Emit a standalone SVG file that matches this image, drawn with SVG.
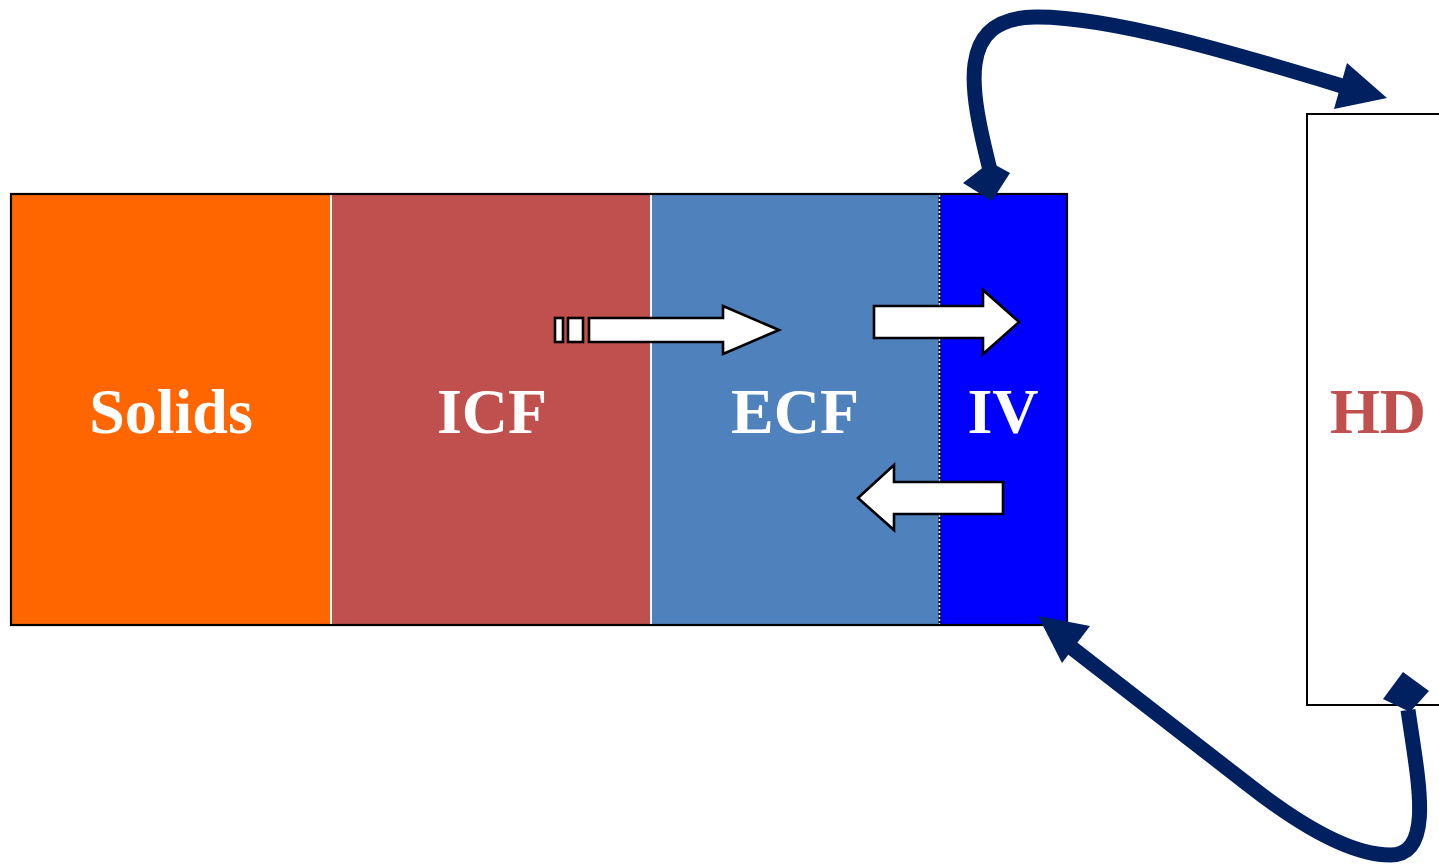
<svg xmlns="http://www.w3.org/2000/svg" width="1439" height="864" viewBox="0 0 1439 864">
  <style>
    .lbl { font-family: "Liberation Serif", "Times New Roman", serif; font-weight: bold; font-size: 64px; text-anchor: middle; }
    .wht { fill: #FFFFFF; }
    .blk { fill: #FFFFFF; stroke: #000000; stroke-width: 2.6; stroke-linejoin: miter; }
    .conn { fill: none; stroke: #002060; stroke-width: 15; }
    .head { fill: #002060; }
  </style>
  <rect x="0" y="0" width="1439" height="864" fill="#FFFFFF"/>

  <g id="solids">
    <rect x="11" y="194" width="320" height="431" fill="#FF6600"/>
    <text class="lbl wht" x="171" y="433">Solids</text>
  </g>
  <g id="icf">
    <rect x="331" y="194" width="320" height="431" fill="#C0504D"/>
    <text class="lbl wht" x="492" y="433">ICF</text>
  </g>
  <g id="ecf">
    <rect x="651" y="194" width="289" height="431" fill="#4F81BD"/>
    <text class="lbl wht" x="795" y="433">ECF</text>
  </g>
  <g id="iv">
    <rect x="940" y="194" width="127" height="431" fill="#0000FF"/>
    <text class="lbl wht" x="1003" y="433">IV</text>
  </g>
  <g id="frame">
    <line x1="331" y1="194" x2="331" y2="625" stroke="#FFFFFF" stroke-width="2"/>
    <line x1="651" y1="194" x2="651" y2="625" stroke="#FFFFFF" stroke-width="2"/>
    <line x1="939.5" y1="195" x2="939.5" y2="625" stroke="#000000" stroke-width="2"/>
    <line x1="939.5" y1="195" x2="939.5" y2="625" stroke="#FFFFFF" stroke-width="1.5" stroke-dasharray="2 2"/>
    <rect x="11" y="194" width="1056" height="431" fill="none" stroke="#000000" stroke-width="2.2"/>
  </g>
  <g id="hd">
    <rect x="1307" y="114" width="140" height="591" fill="#FFFFFF" stroke="#000000" stroke-width="2"/>
    <text class="lbl" x="1378" y="433" fill="#C0504D">HD</text>
  </g>

  <g id="flow-arrows">
    <rect class="blk" x="555" y="318" width="8" height="24"/>
    <rect class="blk" x="568" y="318" width="15" height="24"/>
    <path class="blk" d="M589,318 L723,318 L723,306 L779,330 L723,354 L723,342 L589,342 Z"/>
    <path class="blk" d="M874,306 L983,306 L983,290 L1019,322 L983,354 L983,338 L874,338 Z"/>
    <path class="blk" d="M1003,482 L894,482 L894,465 L858,498 L894,530 L894,514 L1003,514 Z"/>
  </g>

  <g id="connectors">
    <path class="conn" d="M990,170 C970,90 955,18 1035,17 C1110,16 1240,55 1342,86"/>
    <polygon class="head" points="963,183 990,162 1010,173 992,201"/>
    <polygon class="head" points="1387,98 1347,63 1334,109"/>
    <path class="conn" d="M1408,710 C1418,780 1435,855 1390,855 C1350,855 1300,825 1250,786 L1072,648"/>
    <polygon class="head" points="1383,699 1403,672 1429,691 1410,712"/>
    <polygon class="head" points="1038,616 1090,626 1062,663"/>
  </g>
</svg>
